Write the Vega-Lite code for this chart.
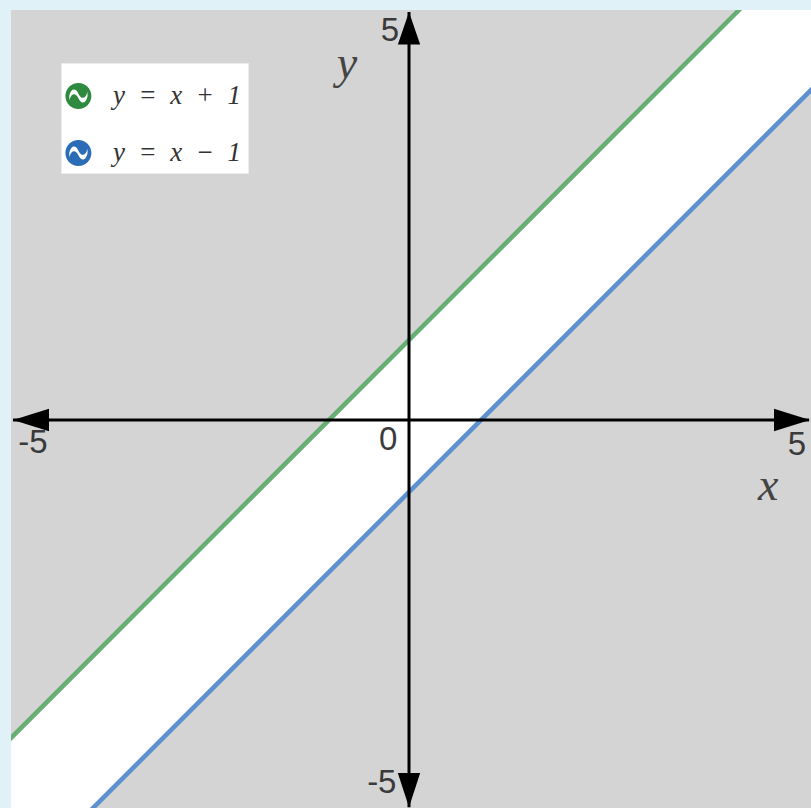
{
  "$schema": "https://vega.github.io/schema/vega-lite/v6.json",
  "width": 800,
  "height": 798,
  "autosize": "none",
  "padding": {"left": 11, "top": 10, "right": 0, "bottom": 0},
  "background": "#e0f1f8",
  "config": {
    "view": {"fill": "#d4d4d4", "stroke": null},
    "legend": {
      "padding": 7,
      "fillColor": "#ffffff",
      "strokeColor": "#ececec",
      "symbolType": "M-1.1,0A0.5,0.5 0 1 1 -0.1,0A0.5,0.5 0 1 1 -1.1,0Z M-0.95,0.165C-0.875,-0.135 -0.7,-0.135 -0.6,0.09C-0.5,0.315 -0.325,0.315 -0.25,0.015L-0.25,-0.165C-0.325,0.135 -0.5,0.135 -0.6,-0.09C-0.7,-0.315 -0.875,-0.315 -0.95,-0.015Z",
      "symbolSize": 2704,
      "symbolStrokeWidth": 0,
      "labelFont": "Liberation Serif",
      "labelFontStyle": "italic",
      "labelFontSize": 27,
      "labelColor": "#333333",
      "labelOffset": -7,
      "labelLimit": 400,
      "rowPadding": 18
    }
  },
  "datasets": {
    "lines": [
      {"series": "y\u2002=\u2002x\u2002+\u20021", "x": -6, "y": -5},
      {"series": "y\u2002=\u2002x\u2002+\u20021", "x": 6, "y": 7},
      {"series": "y\u2002=\u2002x\u2002\u2212\u20021", "x": -6, "y": -6.9},
      {"series": "y\u2002=\u2002x\u2002\u2212\u20021", "x": 6, "y": 5.1}
    ],
    "band": [
      {"x": -6, "upper": -5, "lower": -6.9},
      {"x": 6, "upper": 7, "lower": 5.1}
    ],
    "axes": [
      {"axis": "x", "x": -4.95, "x2": 5.0, "y": 0, "y2": 0},
      {"axis": "y", "x": 0, "x2": 0, "y": -4.84, "y2": 5.1}
    ],
    "arrows": [
      {"dir": "left", "x": -4.95, "y": 0},
      {"dir": "right", "x": 5.0125, "y": 0},
      {"dir": "up", "x": 0, "y": 5.1},
      {"dir": "down", "x": 0, "y": -4.84}
    ],
    "ticks": [
      {"text": "-5", "x": -4.7, "y": -0.29},
      {"text": "0", "x": -0.26, "y": -0.25},
      {"text": "5", "x": 4.85, "y": -0.31},
      {"text": "5", "x": -0.24, "y": 4.86},
      {"text": "-5", "x": -0.34, "y": -4.54}
    ],
    "names": [
      {"text": "x", "x": 4.49, "y": -0.83},
      {"text": "y", "x": -0.775, "y": 4.45}
    ]
  },
  "layer": [
    {
      "data": {"name": "band"},
      "mark": {"type": "area", "clip": true, "fill": "#ffffff"},
      "encoding": {
        "x": {"field": "x", "type": "quantitative", "scale": {"domain": [-4.975, 5.025], "nice": false, "zero": false}, "axis": null},
        "y": {"field": "upper", "type": "quantitative", "scale": {"domain": [-4.85, 5.125], "nice": false, "zero": false}, "axis": null},
        "y2": {"field": "lower"}
      }
    },
    {
      "data": {"name": "lines"},
      "transform": [{"filter": "datum.series === 'y\u2002=\u2002x\u2002+\u20021'"}],
      "mark": {"type": "line", "clip": true, "strokeWidth": 4.5, "color": "#66ae72"},
      "encoding": {
        "x": {"field": "x", "type": "quantitative", "scale": {"domain": [-4.975, 5.025], "nice": false, "zero": false}, "axis": null},
        "y": {"field": "y", "type": "quantitative", "scale": {"domain": [-4.85, 5.125], "nice": false, "zero": false}, "axis": null}
      }
    },
    {
      "data": {"name": "lines"},
      "transform": [{"filter": "datum.series === 'y\u2002=\u2002x\u2002\u2212\u20021'"}],
      "mark": {"type": "line", "clip": true, "strokeWidth": 4.5, "color": "#5c90d0"},
      "encoding": {
        "x": {"field": "x", "type": "quantitative", "scale": {"domain": [-4.975, 5.025], "nice": false, "zero": false}, "axis": null},
        "y": {"field": "y", "type": "quantitative", "scale": {"domain": [-4.85, 5.125], "nice": false, "zero": false}, "axis": null}
      }
    },
    {
      "data": {"name": "axes"},
      "mark": {"type": "rule", "color": "#000000", "strokeWidth": 3},
      "encoding": {
        "x": {"field": "x", "type": "quantitative", "scale": {"domain": [-4.975, 5.025], "nice": false, "zero": false}, "axis": null},
        "x2": {"field": "x2"},
        "y": {"field": "y", "type": "quantitative", "scale": {"domain": [-4.85, 5.125], "nice": false, "zero": false}, "axis": null},
        "y2": {"field": "y2"}
      }
    },
    {
      "data": {"name": "arrows"},
      "mark": {"type": "point", "filled": true, "color": "#000000", "opacity": 1, "size": 1296, "strokeWidth": 0},
      "encoding": {
        "x": {"field": "x", "type": "quantitative", "scale": {"domain": [-4.975, 5.025], "nice": false, "zero": false}, "axis": null},
        "y": {"field": "y", "type": "quantitative", "scale": {"domain": [-4.85, 5.125], "nice": false, "zero": false}, "axis": null},
        "shape": {"field": "dir", "type": "nominal", "scale": {"domain": ["left", "right", "up", "down"], "range": ["M0,0L2,-0.62L2,0.62Z", "M0,0L-2,-0.62L-2,0.62Z", "M0,0L-0.62,1.8L0.62,1.8Z", "M0,0L-0.62,-1.9L0.62,-1.9Z"]}, "legend": null}
      }
    },
    {
      "data": {"name": "ticks"},
      "mark": {"type": "text", "font": "Liberation Sans", "fontSize": 33, "color": "#3a3a3a", "align": "center", "baseline": "middle"},
      "encoding": {
        "x": {"field": "x", "type": "quantitative", "scale": {"domain": [-4.975, 5.025], "nice": false, "zero": false}, "axis": null},
        "y": {"field": "y", "type": "quantitative", "scale": {"domain": [-4.85, 5.125], "nice": false, "zero": false}, "axis": null},
        "text": {"field": "text"}
      }
    },
    {
      "data": {"name": "names"},
      "mark": {"type": "text", "font": "Liberation Serif", "fontStyle": "italic", "fontSize": 46, "color": "#444444", "align": "center", "baseline": "middle"},
      "encoding": {
        "x": {"field": "x", "type": "quantitative", "scale": {"domain": [-4.975, 5.025], "nice": false, "zero": false}, "axis": null},
        "y": {"field": "y", "type": "quantitative", "scale": {"domain": [-4.85, 5.125], "nice": false, "zero": false}, "axis": null},
        "text": {"field": "text"}
      }
    },
    {
      "data": {"name": "lines"},
      "mark": {"type": "point", "filled": true, "clip": true, "opacity": 1},
      "encoding": {
        "x": {"field": "x", "type": "quantitative", "scale": {"domain": [-4.975, 5.025], "nice": false, "zero": false}, "axis": null},
        "y": {"field": "y", "type": "quantitative", "scale": {"domain": [-4.85, 5.125], "nice": false, "zero": false}, "axis": null},
        "fill": {
          "field": "series",
          "type": "nominal",
          "scale": {"domain": ["y\u2002=\u2002x\u2002+\u20021", "y\u2002=\u2002x\u2002\u2212\u20021"], "range": ["#2f8a3f", "#2c6cb6"]},
          "legend": {"orient": "none", "legendX": 50, "legendY": 53, "title": null}
        }
      }
    }
  ]
}
